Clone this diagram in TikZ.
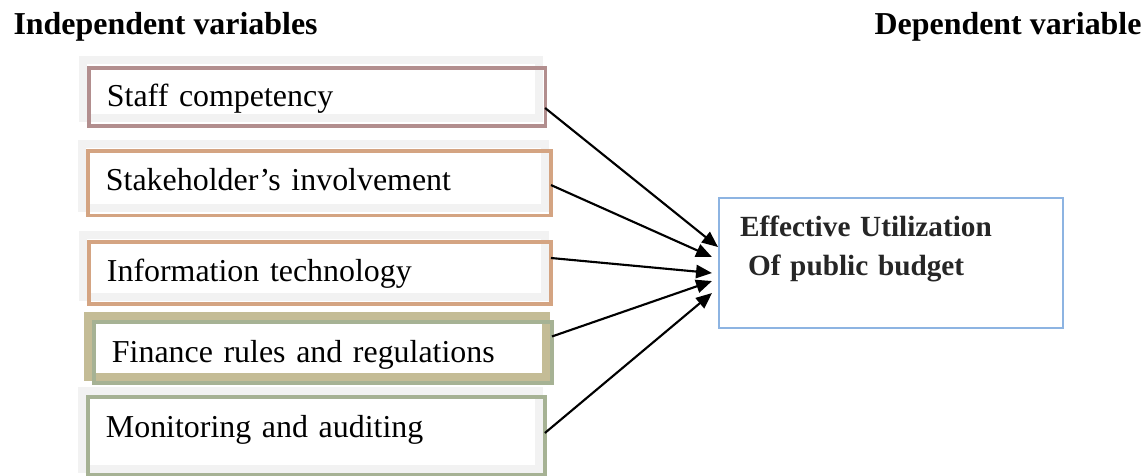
\documentclass[tikz,border=0pt]{standalone}
\usepackage{fontspec}
\setmainfont{Liberation Serif}
\usepackage{tikz}
\usetikzlibrary{shapes, arrows.meta, positioning}

\definecolor{framegray}{RGB}{242,242,242}
\definecolor{rosy}{RGB}{178,142,142}
\definecolor{peach}{RGB}{212,164,130}
\definecolor{olive}{RGB}{196,188,150}
\definecolor{sage}{RGB}{166,178,148}
\definecolor{skyline}{RGB}{141,180,226}
\definecolor{darktext}{RGB}{38,38,38}

\begin{document}
\begin{tikzpicture}
  [
    x=0.376pt, y=-0.376pt,
    Frame/.style={rectangle, anchor=north west, fill=white, draw=framegray, line width=3pt,
      outer sep=0pt, inner xsep=9pt, inner ysep=0pt, text height=17.3pt, align=left,
      font=\fontsize{12}{14}\selectfont},
    Shade/.style={draw=#1, line width=1.2pt},
    Target/.style={rectangle, anchor=north west, draw=skyline, line width=0.75pt,
      inner xsep=7.9pt, inner ysep=0pt, text height=14.3pt, text depth=34.6pt,
      text width=113.5pt, align=left, text=darktext,
      font=\fontsize{11}{14.7}\selectfont\bfseries},
    Heading/.style={inner sep=0pt, font=\fontsize{12}{14}\selectfont\bfseries},
    Link/.style={-{Triangle[length=6pt, width=5pt]}, draw, line width=0.8pt}
  ]
  \useasboundingbox (0,0) rectangle (1148,475);

  % Headings
  \node[Heading, anchor=base west] (indep) at (13,34) {Independent variables};
  \node[Heading, anchor=base east] (dep) at (1142,34) {Dependent variable};

  % Nodes
  \node[Frame, text width=153.5pt, text depth=4.5pt] (staff) at (83,60) {Staff competency};
  \node[Frame, text width=156.1pt, text depth=6.8pt] (stake) at (82,144) {Stakeholder’s involvement};
  \node[Frame, text width=155.7pt, text depth=6pt] (infotech) at (83,235) {Information technology};
  \node[Frame, draw=olive, text width=154.2pt, text depth=5.6pt] (finance) at (88,316) {Finance rules and regulations};
  \node[Frame, text width=153.8pt, text depth=12pt] (monitor) at (82,391) {Monitoring and auditing};

  \node[Target] (budget) at (718,197) {Effective Utilization\\\hspace*{3pt}Of public budget};

  % Shadows
  \draw[Shade=rosy] ([shift={(6,8)}]staff.north west) rectangle ([shift={(6,8)}]staff.south east);
  \draw[Shade=peach] ([shift={(6,7)}]stake.north west) rectangle ([shift={(6,7)}]stake.south east);
  \draw[Shade=peach] ([shift={(6,7)}]infotech.north west) rectangle ([shift={(6,7)}]infotech.south east);
  \draw[Shade=sage] ([shift={(6,6)}]finance.north west) rectangle ([shift={(6,6)}]finance.south east);
  \draw[Shade=sage] ([shift={(6,6)}]monitor.north west) rectangle ([shift={(6,6)}]monitor.south east);

  % Lines
  \path [Link] ([shift={(6,19)}]staff.east) -- ([shift={(0,-16)}]budget.west);
  \path [Link] ([shift={(6,9)}]stake.east) -- ([shift={(-6,-6)}]budget.west);
  \path [Link] ([shift={(6,-8)}]infotech.east) -- ([shift={(-6,10)}]budget.west);
  \path [Link] ([shift={(6,-10)}]finance.east) -- ([shift={(-6,18)}]budget.west);
  \path [Link] ([shift={(6,3)}]monitor.east) -- ([shift={(-6,30)}]budget.west);

\end{tikzpicture}
\end{document}
